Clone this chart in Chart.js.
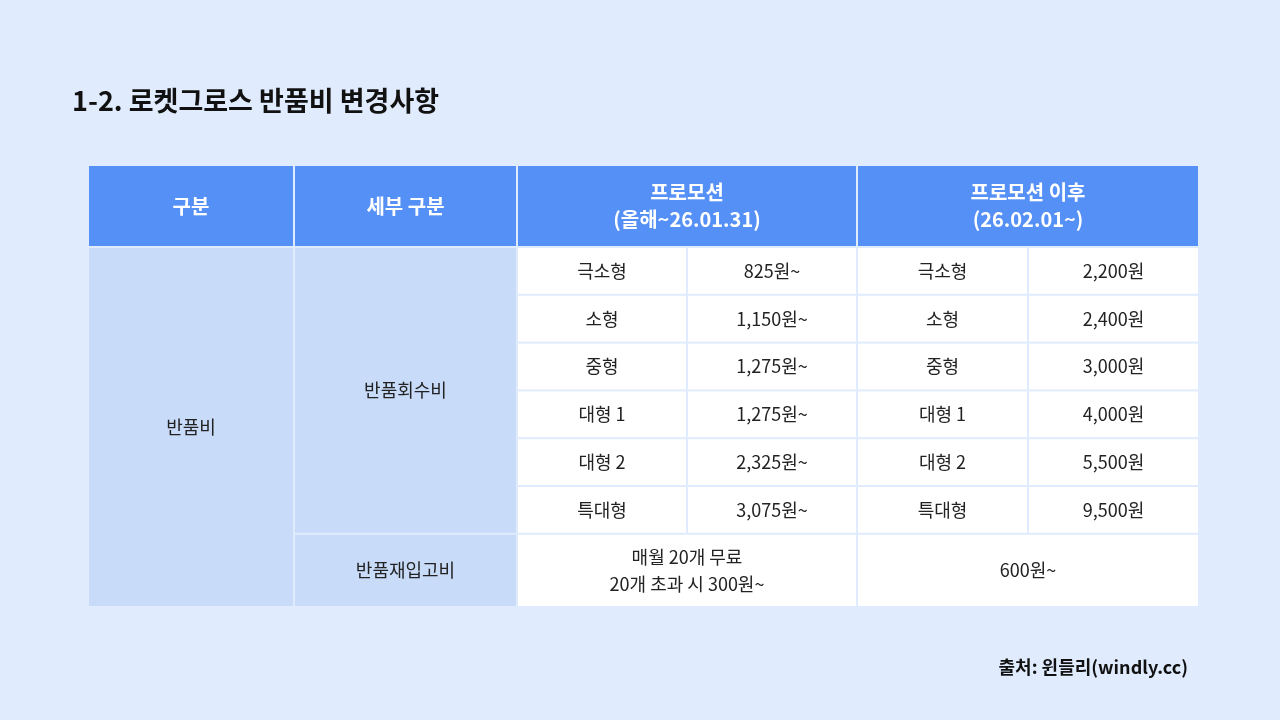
<!DOCTYPE html>
<html>
<head>
<meta charset="utf-8">
<script src="https://cdn.jsdelivr.net/npm/chart.js@4"></script>
<style>
  html, body { margin: 0; padding: 0; background: #e0ecfd; }
  canvas { display: block; }
</style>
</head>
<body>
<canvas id="tableChart" width="1280" height="720"></canvas>
<script>
// Table data
var headers = ['구분', '세부 구분', '프로모션\n(올해~26.01.31)', '프로모션 이후\n(26.02.01~)'];
var sizes = ['극소형', '소형', '중형', '대형 1', '대형 2', '특대형'];
var promoPrices = ['825원~', '1,150원~', '1,275원~', '1,275원~', '2,325원~', '3,075원~'];
var afterPrices = ['2,200원', '2,400원', '3,000원', '4,000원', '5,500원', '9,500원'];
var restockPromo = '매월 20개 무료\n20개 초과 시 300원~';
var restockAfter = '600원~';

var FONT = "'Noto Sans CJK KR', 'Noto Sans', sans-serif";
var colEdges = [88, 294, 517, 687, 857, 1028, 1199];
var headTop = 165, bodyTop = 247, rowH = 47.8, bodyBottom = 607;

function rowEdge(i) { return bodyTop + rowH * i; }

var tablePlugin = {
    id: 'tablePlugin',
    afterDraw: function(chart) {
        var ctx = chart.ctx;
        var xs = chart.scales.x, ys = chart.scales.y;

        function cell(x0, y0, x1, y1, fill, text, font, color) {
            var px0 = xs.getPixelForValue(x0) + 1, px1 = xs.getPixelForValue(x1) - 1;
            var py0 = ys.getPixelForValue(y0) + 1, py1 = ys.getPixelForValue(y1) - 1;
            ctx.fillStyle = fill;
            ctx.fillRect(px0, py0, px1 - px0, py1 - py0);
            var lines = text.split('\n');
            ctx.font = font;
            ctx.fillStyle = color;
            ctx.textAlign = 'center';
            ctx.textBaseline = 'middle';
            var lh = 27;
            var cy = (py0 + py1) / 2 - (lines.length - 1) * lh / 2;
            lines.forEach(function(l, i) {
                ctx.fillText(l, (px0 + px1) / 2, cy + i * lh);
            });
        }

        ctx.save();
        // title
        ctx.font = 'bold 27px ' + FONT;
        ctx.fillStyle = '#111';
        ctx.textAlign = 'left';
        ctx.textBaseline = 'middle';
        ctx.fillText('1-2. 로켓그로스 반품비 변경사항', 72, 101);

        var headFont = 'bold 20px ' + FONT;
        var bodyFont = '18px ' + FONT;
        var blue = '#5590f6', light = '#c8dcfa', white = '#ffffff', txt = '#222';

        // header
        cell(colEdges[0], headTop, colEdges[1], bodyTop, blue, headers[0], headFont, white);
        cell(colEdges[1], headTop, colEdges[2], bodyTop, blue, headers[1], headFont, white);
        cell(colEdges[2], headTop, colEdges[4], bodyTop, blue, headers[2], headFont, white);
        cell(colEdges[4], headTop, colEdges[6], bodyTop, blue, headers[3], headFont, white);

        // body
        cell(colEdges[0], bodyTop, colEdges[1], bodyBottom, light, '반품비', bodyFont, txt);
        cell(colEdges[1], bodyTop, colEdges[2], rowEdge(sizes.length), light, '반품회수비', bodyFont, txt);
        sizes.forEach(function(s, i) {
            var y0 = rowEdge(i), y1 = rowEdge(i + 1);
            cell(colEdges[2], y0, colEdges[3], y1, white, s, bodyFont, txt);
            cell(colEdges[3], y0, colEdges[4], y1, white, promoPrices[i], bodyFont, txt);
            cell(colEdges[4], y0, colEdges[5], y1, white, s, bodyFont, txt);
            cell(colEdges[5], y0, colEdges[6], y1, white, afterPrices[i], bodyFont, txt);
        });
        var rt = rowEdge(sizes.length);
        cell(colEdges[1], rt, colEdges[2], bodyBottom, light, '반품재입고비', bodyFont, txt);
        cell(colEdges[2], rt, colEdges[4], bodyBottom, white, restockPromo, bodyFont, txt);
        cell(colEdges[4], rt, colEdges[6], bodyBottom, white, restockAfter, bodyFont, txt);

        // source
        ctx.font = 'bold 18px ' + FONT;
        ctx.fillStyle = '#111';
        ctx.textAlign = 'right';
        ctx.fillText('출처: 윈들리(windly.cc)', 1188, 667);
        ctx.restore();
    }
};

new Chart(document.getElementById('tableChart'), {
    type: 'scatter',
    data: { datasets: [{ data: [] }] },
    options: {
        responsive: false,
        animation: false,
        layout: { padding: 0 },
        plugins: { legend: { display: false }, tooltip: { enabled: false } },
        scales: {
            x: { type: 'linear', min: 0, max: 1280, display: false },
            y: { type: 'linear', min: 0, max: 720, reverse: true, display: false }
        }
    },
    plugins: [tablePlugin]
});
</script>
</body>
</html>
